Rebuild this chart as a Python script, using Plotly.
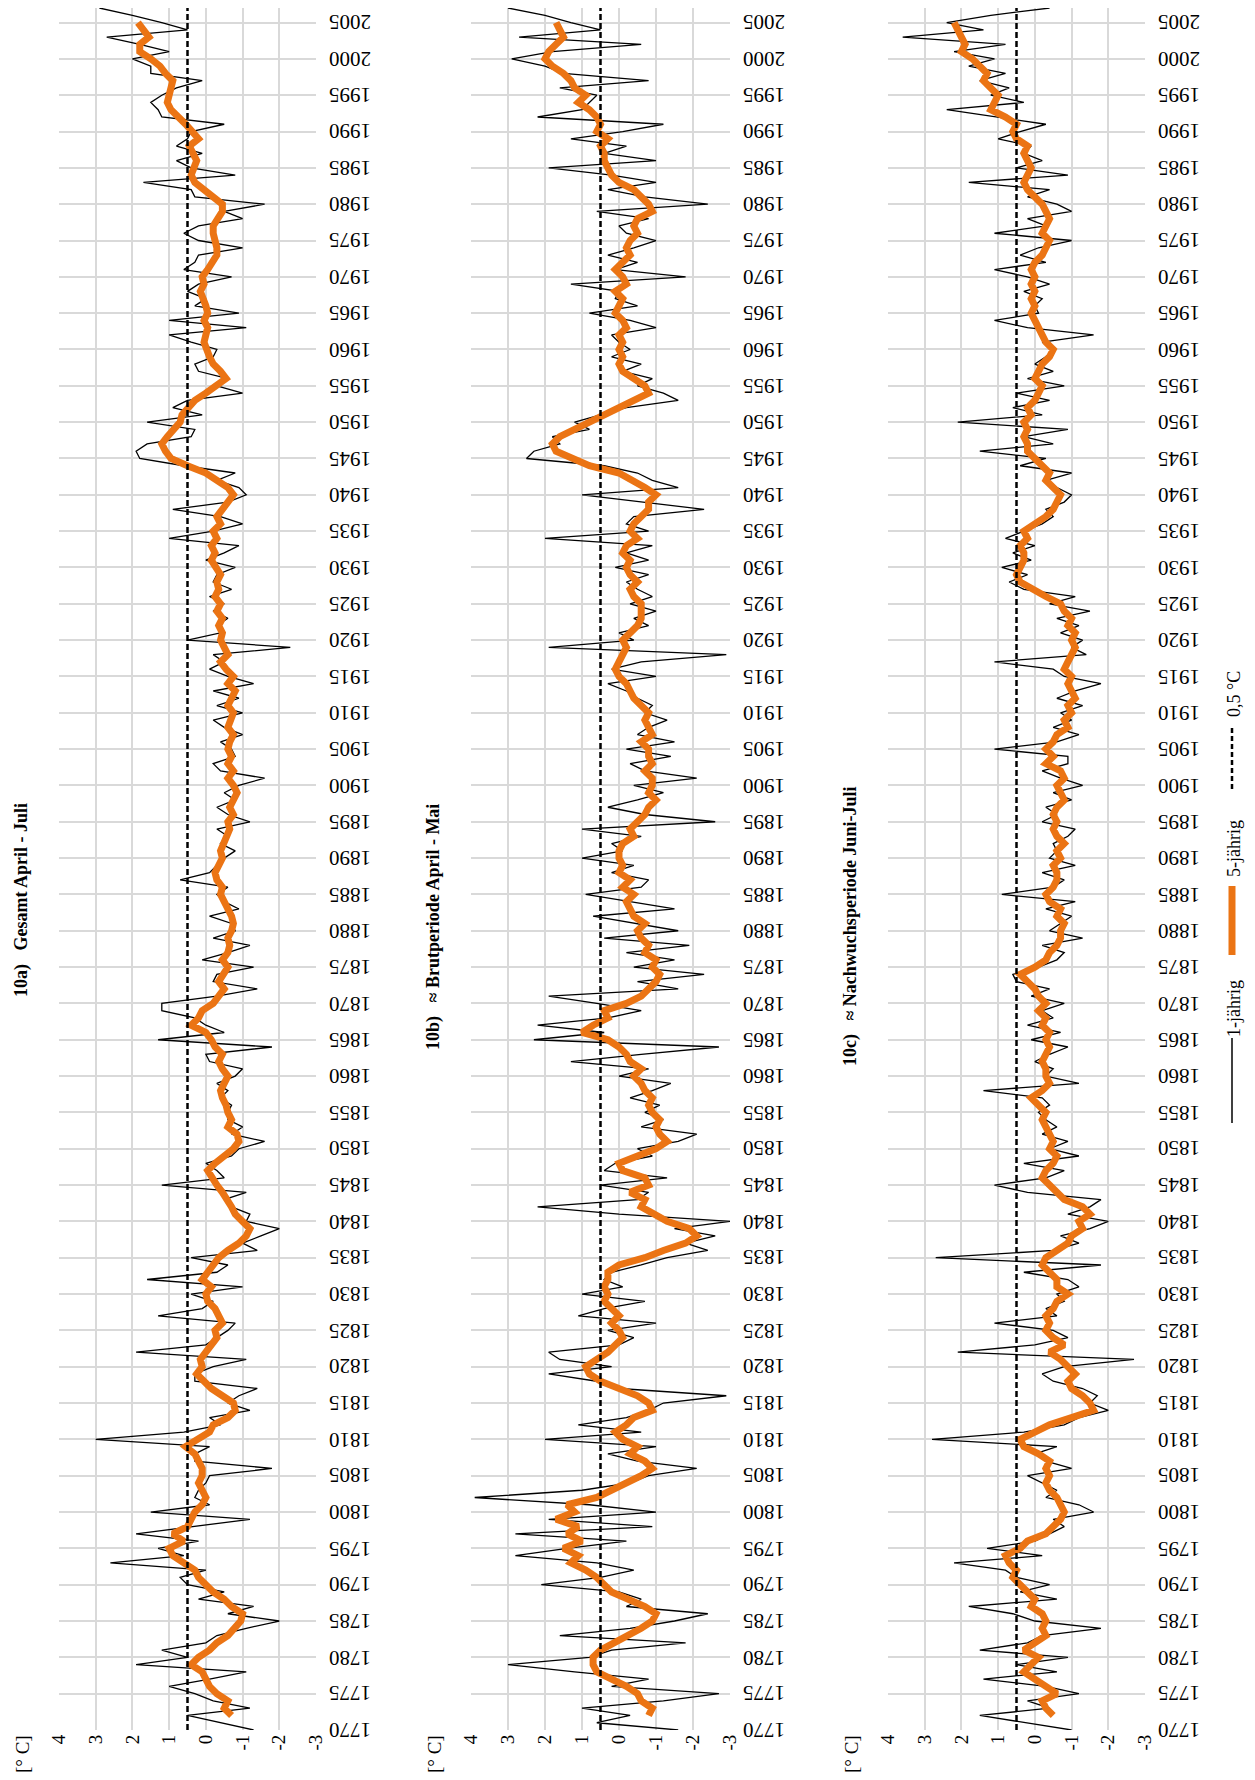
import plotly.graph_objects as go

# window is 1255 x 1780; the page body has an 8px margin, so the figure is
# made 16px smaller and all geometry below is given in window pixels.
WIN_W, WIN_H = 1255, 1780
BODY = 8
W, H = WIN_W - 2 * BODY, WIN_H - 2 * BODY
FONT = "Liberation Serif"
ORANGE = "#EB7414"
GRID = "#d9d9d9"

FIRST_YEAR = 1770
LAST_YEAR = 2007
FIRST_YEAR_5 = 1772
LAST_YEAR_5 = 2005
REF_VALUE = 0.5

years_1 = list(range(FIRST_YEAR, LAST_YEAR + 1))
years_5 = list(range(FIRST_YEAR_5, LAST_YEAR_5 + 1))
year_ticks = list(range(1770, 2006, 5))
value_ticks = [4, 3, 2, 1, 0, -1, -2, -3]

titles = ["10a)   Gesamt April - Juli",
          "10b)   \u2248 Brutperiode April - Mai",
          "10c)   \u2248 Nachwuchsperiode Juni-Juli"]
legend_labels = ["1-jährig", "5-jährig", "0,5 °C"]
unit_label = "[° C]"

# ---------- 10a) Gesamt April - Juli ----------
a_1 = [
    -1.3, -0.4, 0.5, -1.2, -0.2, 0.3, 1.0, -0.1, -1.1, 1.9,
    0.5, 1.2, 0.0, -0.3, -1.1, -2.0, -0.6, -1.3, 0.2, -0.5,
    0.5, 0.7, 0.0, 2.6, 0.6, 1.3, 0.2, 1.9, 0.4, -1.2,
    1.5, -0.1, 0.3, 0.2, 0.0, -0.1, -1.8, 0.3, 0.3, -0.1,
    3.0, 0.6, -0.4, -0.1, -1.2, -0.6, -0.9, -1.4, 0.3, 0.3,
    -0.2, -1.1, 1.9, 0.0, -0.3, -0.6, -0.8, 1.3, 0.1, -0.2,
    0.4, -1.0, 1.6, -0.3, -0.6, 0.4, -1.4, -1.0, -1.5, -2.0,
    -1.1, -1.2, -0.7, -0.5, -1.1, 1.2, -0.5, -0.3, 0.0, -0.7,
    -0.9, -1.6, -0.7, -1.0, -0.6, -0.6, -0.7, -0.4, -0.6, -0.3,
    -0.8, -1.0, -0.1, 0.0, -1.8, 1.3, -0.5, 0.0, 0.3, 1.2,
    1.2, -0.3, -1.4, -0.2, -0.3, -1.3, 0.1, -0.6, -1.2, -0.2,
    -0.8, -0.7, -0.1, -0.9, -0.5, -0.3, -0.6, 0.7, -0.1, -0.3,
    -0.5, -0.8, -0.4, -0.6, -0.3, -1.2, -0.6, -0.3, -0.8, -0.5,
    -0.9, -1.6, -0.4, -0.2, -0.8, -0.7, -0.4, -1.0, -0.5, -0.2,
    -1.0, -0.3, -0.9, -0.2, -1.3, -0.6, -0.1, -0.5, -0.2, -2.3,
    0.5, -0.4, -0.3, -0.6, -0.2, -0.5, -0.1, -0.7, -0.2, -0.3,
    -0.8, 0.0, -0.5, -0.9, 1.0, -0.2, -1.0, -0.4, 0.9, -0.6,
    -1.1, -0.9, -0.3, -0.8, 0.6, 1.8, 1.9, 1.6, 0.4, 0.3,
    1.6, 0.1, 0.9, 0.5, -1.0, -0.3, -0.6, 0.2, 0.3, -0.2,
    -0.3, 0.4, 1.0, -1.1, 1.0, -0.9, 0.3, 0.0, 0.5, 0.2,
    -0.7, 0.6, 0.3, 0.2, -1.0, 0.2, 0.6, 0.2, -1.0, -0.5,
    -1.6, 0.3, 0.4, 1.7, -0.8, 0.4, 0.8, 0.1, 0.8, 0.5,
    0.4, -0.5, 1.2, 1.3, 1.5, 1.2, 0.8, 0.1, 1.5, 1.5,
    2.0, 1.0, 1.8, 2.7, 0.5, 1.2, 2.0, 2.9,
]
a_5 = [
    -0.7, -0.5, -0.6, -0.3, -0.1, 0.0, 0.1, 0.4,
    0.2, -0.1, -0.3, -0.6, -0.8, -0.95, -1.0, -0.7, -0.5, -0.2,
    0.0, 0.2, 0.3, 0.6, 0.9, 1.0, 0.6, 0.9, 0.5, 0.4,
    0.3, 0.1, 0.0, 0.1, 0.2, 0.1, 0.1, 0.2, 0.3, 0.55,
    0.2, -0.1, -0.2, -0.6, -0.8, -0.75, -0.45, -0.15, 0.05, 0.25,
    0.1, 0.15, 0.0, -0.15, -0.3, -0.25, -0.45, -0.35, -0.25, -0.05,
    0.0, -0.15, 0.1, -0.05, -0.2, -0.35, -0.6, -0.9, -1.1, -1.2,
    -1.0, -0.8, -0.7, -0.6, -0.45, -0.3, -0.15, -0.05, -0.25, -0.5,
    -0.75, -0.9, -0.85, -0.6, -0.7, -0.6, -0.55, -0.45, -0.4, -0.5,
    -0.6, -0.45, -0.35, -0.45, -0.25, -0.15, 0.0, 0.4, 0.2, 0.1,
    -0.2, -0.35, -0.5, -0.35, -0.5, -0.6, -0.45, -0.6, -0.65, -0.6,
    -0.7, -0.75, -0.7, -0.6, -0.55, -0.4, -0.45, -0.3, -0.25, -0.35,
    -0.45, -0.4, -0.5, -0.6, -0.65, -0.6, -0.75, -0.65, -0.75, -0.85,
    -0.75, -0.6, -0.75, -0.6, -0.7, -0.6, -0.65, -0.75, -0.6, -0.7,
    -0.75, -0.6, -0.7, -0.8, -0.6, -0.75, -0.55, -0.4, -0.6, -0.5,
    -0.4, -0.45, -0.35, -0.45, -0.3, -0.4, -0.25, -0.35, -0.3, -0.4,
    -0.3, -0.15, -0.25, -0.15, -0.3, -0.2, -0.4, -0.3, -0.45, -0.6,
    -0.75, -0.6, -0.3, 0.0, 0.5, 0.95, 1.1, 1.2, 1.05, 0.9,
    0.7, 0.65, 0.5, 0.3, 0.0, -0.3, -0.55, -0.4, -0.2, -0.1,
    0.0, 0.05, 0.0, -0.05, 0.05, -0.05, 0.0, 0.1, 0.15, 0.05,
    0.1, -0.05, -0.2, -0.3, -0.3, -0.25, -0.2, -0.2, -0.35, -0.45,
    -0.45, -0.2, 0.0, 0.3, 0.4, 0.3, 0.25, 0.35, 0.45, 0.2,
    0.35, 0.55, 0.75, 0.95, 1.05, 1.0, 0.95, 0.9, 1.1, 1.25,
    1.5, 1.8, 1.8, 1.55, 1.7, 1.85,
]

# ---------- 10b) Brutperiode April - Mai ----------
b_1 = [
    -1.6, 0.6, -0.3, 1.0, -1.2, -2.7, 0.2, -0.8, 1.2, 3.0,
    0.8, 0.2, -1.8, 1.6, -0.3, -1.5, -2.4, -0.2, -0.6, 0.0,
    2.1, 0.5, -0.4, 0.6, 2.8, 1.4, -0.2, 2.8, -0.9, 1.9,
    -1.0, 0.8, 3.9, 1.0, -0.3, -0.8, -2.1, -0.5, 0.3, -1.0,
    2.0, -0.6, 1.1, -0.2, -0.8, -1.2, -2.9, 0.0, 0.6, 1.9,
    0.2, 1.6, 1.9, 0.0, -0.4, 0.3, -1.0, 1.1, 0.4, -0.7,
    1.0, -0.1, 0.4, 0.2, -0.6, -1.3, -2.4, -1.8, -2.6, -1.5,
    -3.0, 0.0, 2.2, -0.5, -0.8, 0.5, -1.3, 0.4, 0.1, -0.9,
    -0.5, -1.6, -2.1, -0.6, -1.2, -0.7, -1.1, -0.3, -0.9, -1.4,
    0.0, -0.8, 1.3, -0.6, -2.7, 2.3, 0.4, 2.2, 0.3, -0.6,
    0.6, 1.9, -1.6, -0.5, -2.3, -0.4, -1.5, -0.2, -1.9, 0.4,
    -1.6, -0.5, 0.7, -1.5, -0.3, 0.9, -0.6, -0.8, 0.2, -0.4,
    1.0, -0.1, 0.2, -0.6, 1.0, -2.6, -0.7, 0.3, -0.5, -1.2,
    -0.4, -2.1, -0.7, -0.3, -1.4, -0.2, -1.5, -0.5, -0.8, -1.3,
    -0.7, -0.9, -0.5, -0.2, 0.3, -1.0, 0.2, -0.6, -2.9, 1.9,
    -0.4, 0.0, -0.8, -0.4, -1.0, -0.3, -0.9, -0.5, -0.2, -0.8,
    0.1, -0.8, -0.2, -0.9, 2.0, -0.8, -0.2, -0.4, -2.3, -0.6,
    1.0, -1.6, -0.9, -0.5, 0.4, 2.5, 2.3, 1.6, 1.8, 0.8,
    1.2, 0.5, -0.2, -1.6, -1.2, -0.5, -0.9, -0.1, -0.6, 0.2,
    -0.3, 0.0, 0.2, -1.0, -0.3, 0.8, -0.5, 0.1, 0.0, 1.3,
    -1.8, 0.1, -0.5, 0.3, -0.4, -1.0, -0.2, 0.0, -0.8, 0.6,
    -2.4, -0.7, 0.3, -1.0, 0.2, 1.9, -1.0, 0.4, -0.2, 1.3,
    -0.1, -1.2, 2.2, 1.0, 0.8, 0.6, 1.6, -0.8, 1.5, 2.0,
    2.9, 1.8, -0.6, 2.7, 0.5, 1.3, 2.0, 3.0,
]
b_5 = [
    -0.8, -0.9, -0.6, -0.5, -0.2, 0.2, 0.6, 0.7,
    0.7, 0.5, 0.1, -0.3, -0.6, -0.9, -1.0, -0.7, -0.3, 0.2,
    0.4, 0.6, 0.9, 1.3, 1.1, 1.5, 1.0, 1.4, 1.1, 1.7,
    1.2, 1.4, 0.6, 0.2, -0.3, -0.6, -0.9, -0.7, -0.3, -0.5,
    -0.1, 0.1, -0.2, -0.4, -0.9, -0.8, -0.5, 0.0, 0.5, 0.8,
    0.9, 0.6, 0.3, 0.1, -0.1, 0.0, 0.2, 0.0, 0.2, 0.4,
    0.3, 0.4, 0.3, 0.3, 0.0, -0.7, -1.2, -1.8, -2.1, -1.9,
    -1.3, -0.9, -0.6, -0.7, -0.3, -0.8, -0.7, -0.1, 0.0, -0.5,
    -1.0, -1.3, -1.1, -1.0, -1.1, -0.9, -0.8, -0.9, -0.7, -0.6,
    -0.4, -0.6, -0.3, -0.2, 0.0, 0.3, 1.0, 0.7, 0.3, 0.4,
    -0.2, -0.6, -0.8, -1.0, -1.1, -0.9, -1.0, -0.7, -0.8, -0.6,
    -0.5, -0.7, -0.4, -0.3, -0.2, -0.4, -0.1, -0.3, 0.0, -0.1,
    0.0, 0.0, -0.1, -0.4, -0.3, -0.5, -0.7, -0.8, -1.0, -0.8,
    -0.9, -0.9, -0.7, -0.9, -0.8, -0.8, -0.6, -0.9, -0.8, -0.7,
    -0.8, -0.6, -0.4, -0.3, -0.2, 0.0, 0.1, 0.0, -0.1, -0.2,
    -0.1, -0.3, -0.5, -0.6, -0.6, -0.6, -0.4, -0.3, -0.5, -0.3,
    -0.2, -0.3, -0.1, -0.2, -0.5, -0.3, -0.4, -0.6, -0.8, -0.8,
    -1.0, -0.7, -0.3, 0.0, 0.8, 1.3, 1.7, 1.8, 1.6, 1.2,
    0.8, 0.4, 0.0, -0.4, -0.8, -0.7, -0.4, -0.1, 0.0, -0.1,
    0.0, -0.1, 0.0, -0.2, -0.1, 0.1, 0.0, -0.1, 0.1, -0.2,
    -0.1, 0.1, -0.1, -0.3, -0.2, -0.3, -0.5, -0.4, -0.5, -0.9,
    -0.8, -0.6, -0.4, 0.0, 0.2, 0.3, 0.4, 0.4, 0.5, 0.3,
    0.6, 0.5, 0.6, 0.8, 1.1, 0.9, 1.2, 1.3, 1.5, 1.8,
    2.0, 1.9, 1.7, 1.5, 1.6, 1.7,
]

# ---------- 10c) Nachwuchsperiode Juni-Juli ----------
c_1 = [
    -1.0, 0.3, 1.5, -0.4, 0.2, -1.2, -0.3, 1.4, -0.6, 0.5,
    -0.9, 1.5, 0.2, -0.2, -1.8, 0.0, 0.6, 1.8, -0.6, 0.4,
    -0.4, 0.5, 0.8, 2.2, -0.2, 1.3, 0.0, -0.4, -0.8, -0.5,
    -1.6, -1.2, -0.3, -0.6, -0.2, 0.2, -1.0, -0.3, 0.0, -0.6,
    2.8, 0.3, -0.8, -1.2, -2.0, -1.5, -1.7, -1.3, -0.5, -0.2,
    -0.8, -2.7, 2.1, 0.0, -0.9, -0.5, 1.1, -0.6, -0.3, -0.8,
    -0.6, -1.2, -0.9, 0.3, -1.8, 2.7, -0.5, -1.2, -0.7, -1.5,
    -2.0, -0.9, -1.5, -1.8, 0.2, 1.1, -0.3, -0.8, 0.3, -1.2,
    -0.4, -0.9, -0.2, -0.6, -0.3, -0.1, -0.4, -0.2, 1.4, -1.2,
    -0.3, -0.5, 0.0, -0.4, -0.9, 0.1, -0.7, 0.2, -0.5, -0.2,
    -0.8, 0.1, -0.4, 0.5, 0.6, -0.1, -0.6, -0.8, -0.2, -1.3,
    -0.4, -0.7, -1.0, -0.3, -1.1, 0.9, -0.5, -0.8, -0.2, -1.1,
    -0.4, -0.6, -0.5, -0.9, -1.1, -0.2, -0.6, -0.3, -1.0, -0.5,
    -1.3, -0.7, -0.2, -0.9, -0.9, 1.1, -0.6, -1.2, -0.5, -1.0,
    -0.7, -1.3, -0.6, -1.1, -1.8, -0.8, -0.5, 1.1, -1.4, -1.0,
    -1.3, -0.7, -1.2, -0.6, -1.5, -0.4, -1.1, 0.3, 0.7, 0.2,
    0.9, 0.1, 0.6, 0.0, 0.8, 0.3, -0.2, -0.5, -0.3, -0.8,
    -1.0, -0.6, -0.3, -1.0, 0.4, -0.3, 1.5, -0.5, 0.3, -0.9,
    2.1, -0.2, 0.6, -0.4, 0.5, -0.8, 0.2, -0.5, 0.0, -0.3,
    -0.5, -0.2, -1.6, 0.2, 1.1, -0.1, 0.0, -0.2, 0.3, -0.4,
    0.2, 1.1, -0.3, 0.4, -0.1, -1.0, 1.1, -0.3, 0.2, -1.0,
    -0.6, 0.2, -0.4, 1.8, -0.9, 0.5, -0.2, 0.3, 0.1, 1.0,
    0.4, -0.3, 1.1, 2.4, 0.3, 1.2, 0.7, 1.5, 0.8, 1.8,
    1.1, 2.2, 0.8, 3.6, 1.4, 2.4, 1.2, -0.4,
]
c_5 = [
    -0.5, -0.3, -0.2, -0.6, -0.3, 0.0, 0.3, 0.1,
    -0.1, 0.3, 0.0, -0.3, -0.2, -0.3, -0.2, 0.1, 0.0, 0.2,
    0.4, 0.6, 0.5, 0.7, 0.8, 0.4, 0.2, -0.3, -0.5, -0.7,
    -0.8, -0.7, -0.6, -0.4, -0.3, -0.4, -0.3, -0.4, -0.1, 0.3,
    0.4, 0.0, -0.4, -1.0, -1.6, -1.5, -1.3, -1.0, -0.9, -1.1,
    -0.9, -0.7, -0.4, -0.8, -0.5, -0.3, -0.4, -0.3, -0.5, -0.6,
    -0.9, -0.6, -0.6, -0.4, -0.2, -0.3, -0.6, -0.9, -1.0, -1.3,
    -1.2, -1.5, -1.3, -0.8, -0.6, -0.4, -0.2, -0.3, -0.5, -0.6,
    -0.4, -0.5, -0.4, -0.3, -0.2, -0.3, -0.1, 0.1, -0.2, -0.4,
    -0.3, -0.3, -0.2, -0.3, -0.4, -0.3, -0.4, -0.2, -0.3, -0.1,
    -0.3, -0.1, 0.0, 0.2, 0.4, 0.0, -0.3, -0.4, -0.6, -0.7,
    -0.7, -0.8, -0.6, -0.7, -0.4, -0.3, -0.5, -0.6, -0.6, -0.5,
    -0.7, -0.6, -0.8, -0.6, -0.5, -0.6, -0.5, -0.6, -0.8, -0.7,
    -0.6, -0.8, -0.7, -0.3, -0.5, -0.3, -0.5, -0.6, -0.9, -0.8,
    -1.0, -0.9, -1.1, -1.0, -0.9, -1.0, -0.8, -0.9, -1.0, -1.1,
    -1.0, -1.1, -0.9, -1.0, -0.8, -0.7, -0.3, 0.1, 0.4, 0.5,
    0.4, 0.3, 0.3, 0.4, 0.2, 0.3, 0.0, -0.3, -0.5, -0.6,
    -0.7, -0.5, -0.3, -0.4, -0.2, 0.0, 0.2, 0.2, 0.3, 0.2,
    0.3, 0.1, 0.2, 0.0, -0.1, -0.2, 0.0, -0.1, -0.2, -0.4,
    -0.5, -0.3, -0.2, -0.1, 0.0, 0.1, 0.0, 0.1, 0.0, 0.1,
    0.0, 0.1, 0.0, -0.2, -0.3, -0.4, -0.2, -0.3, -0.4, -0.3,
    -0.2, 0.0, 0.2, 0.3, 0.2, 0.1, 0.2, 0.3, 0.2, 0.5,
    0.6, 0.5, 0.8, 1.2, 1.1, 1.0, 1.2, 1.4, 1.3, 1.5,
    1.7, 2.0, 1.9, 2.0, 2.1, 2.2,
]

for s in (a_1, b_1, c_1):
    assert len(s) == len(years_1), len(s)
for s in (a_5, b_5, c_5):
    assert len(s) == len(years_5), len(s)

# ---------- layout geometry (window pixels) ----------
panel_left_px = [59, 471, 888]
panel_right_px = [316, 730, 1145]
plot_top_px, plot_bottom_px = 8, 1730
title_center_px = [900, 927, 927]


def px(xp):
    return min(1.0, max(0.0, (xp - BODY) / W))


def py(yp):
    return min(1.0, max(0.0, 1 - (yp - BODY) / H))


fig = go.Figure()
series = [(a_1, a_5), (b_1, b_5), (c_1, c_5)]
layout = {}
for i, (s1, s5) in enumerate(series):
    n = "" if i == 0 else str(i + 1)
    xa, ya = "x" + n, "y" + n
    fig.add_trace(go.Scatter(x=s1, y=years_1, mode="lines",
                             line=dict(color="black", width=1.3),
                             xaxis=xa, yaxis=ya, showlegend=False,
                             hoverinfo="skip"))
    fig.add_trace(go.Scatter(x=s5, y=years_5, mode="lines",
                             line=dict(color=ORANGE, width=7),
                             xaxis=xa, yaxis=ya, showlegend=False,
                             hoverinfo="skip"))
    fig.add_shape(type="line", xref=xa, yref=ya + " domain",
                  x0=REF_VALUE, x1=REF_VALUE, y0=0, y1=1, layer="above",
                  line=dict(color="black", width=2.5, dash="6px,3px"))
    layout["xaxis" + n] = dict(
        domain=[px(panel_left_px[i]), px(panel_right_px[i])],
        range=[value_ticks[0], value_ticks[-1]], anchor=ya,
        tickmode="array", tickvals=value_ticks,
        ticktext=[str(v) for v in value_ticks],
        tickangle=-90, ticks="", showgrid=True, gridcolor=GRID, gridwidth=1.5,
        zeroline=False, showline=False, automargin=False,
        tickfont=dict(family=FONT, size=19, color="black"))
    layout["yaxis" + n] = dict(
        domain=[py(plot_bottom_px), py(plot_top_px)],
        range=[FIRST_YEAR, LAST_YEAR], anchor=xa, side="right",
        tickmode="array", tickvals=year_ticks, showticklabels=False,
        ticks="", showgrid=True, gridcolor=GRID, gridwidth=1.5,
        zeroline=False, showline=False, automargin=False)
    # year tick labels, upside down, right of the panel
    for yv in year_ticks:
        fig.add_annotation(text=str(yv), xref="paper", yref=ya,
                           x=px(panel_right_px[i] + 34), y=yv,
                           xanchor="center", yanchor="middle",
                           textangle=180, showarrow=False,
                           font=dict(family=FONT, size=21, color="black"))
    # title
    fig.add_annotation(text="<b>" + titles[i] + "</b>", xref="paper", yref="paper",
                       x=px(panel_left_px[i] - 38), y=py(title_center_px[i]),
                       xanchor="center", yanchor="middle",
                       textangle=-90, showarrow=False,
                       font=dict(family=FONT, size=18, color="black"))
    # unit
    fig.add_annotation(text=unit_label, xref="paper", yref="paper",
                       x=px(panel_left_px[i] - 37), y=py(1754),
                       xanchor="center", yanchor="middle",
                       textangle=-90, showarrow=False,
                       font=dict(family=FONT, size=19, color="black"))

# ---------- legend (drawn manually, rotated) ----------
LX = 1232
fig.add_shape(type="line", xref="paper", yref="paper", x0=px(LX), x1=px(LX),
              y0=py(1038), y1=py(1123), line=dict(color="black", width=1.5))
fig.add_shape(type="line", xref="paper", yref="paper", x0=px(LX), x1=px(LX),
              y0=py(886), y1=py(955), line=dict(color=ORANGE, width=7))
fig.add_shape(type="line", xref="paper", yref="paper", x0=px(LX), x1=px(LX),
              y0=py(728), y1=py(792), line=dict(color="black", width=2.5, dash="5px,3px"))
for lbl, yc in zip(legend_labels, [1009, 849, 694]):
    fig.add_annotation(text=lbl, xref="paper", yref="paper", x=px(LX + 2), y=py(yc),
                       xanchor="center", yanchor="middle",
                       textangle=-90, showarrow=False,
                       font=dict(family=FONT, size=18, color="black"))

fig.update_layout(width=W, height=H, margin=dict(l=0, r=0, t=0, b=0, autoexpand=False),
                  paper_bgcolor="white", plot_bgcolor="white", **layout)

fig.write_html("out.html")
